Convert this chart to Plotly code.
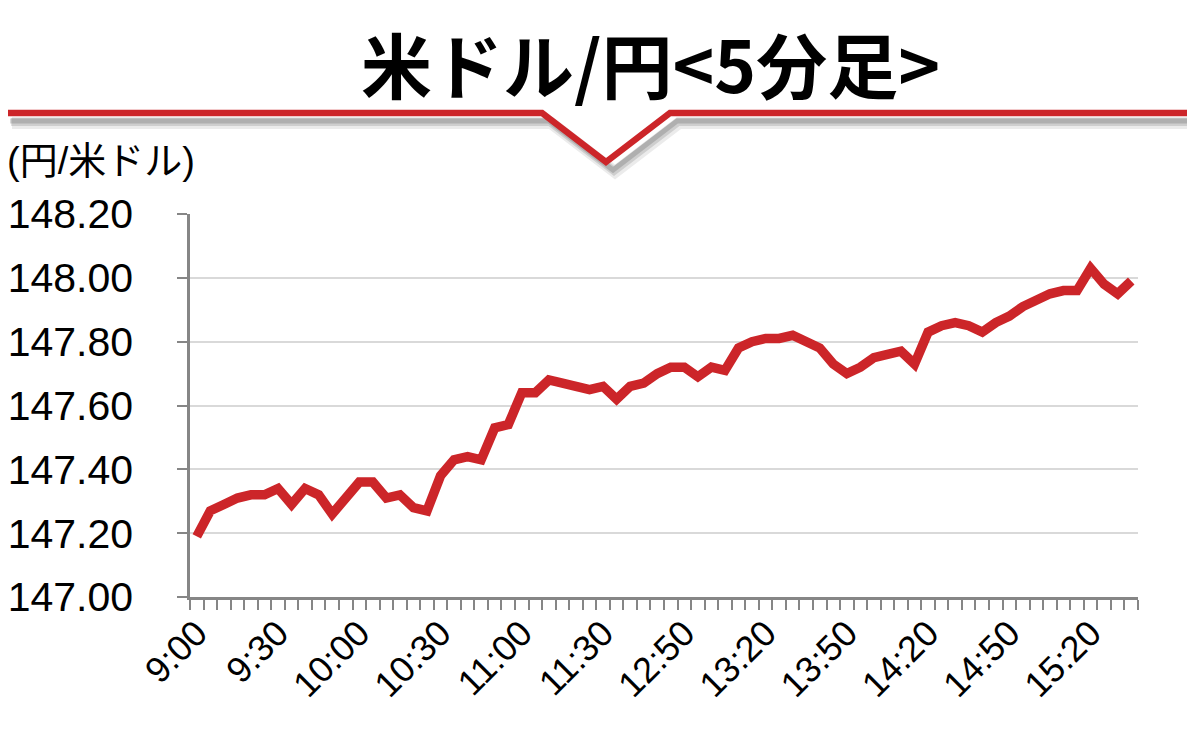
import plotly.graph_objects as go

# ---- data ----
times = [
    "9:00", "9:05", "9:10", "9:15", "9:20", "9:25", "9:30", "9:35", "9:40", "9:45", "9:50", "9:55",
    "10:00", "10:05", "10:10", "10:15", "10:20", "10:25", "10:30", "10:35", "10:40", "10:45", "10:50", "10:55",
    "11:00", "11:05", "11:10", "11:15", "11:20", "11:25", "11:30",
    "12:25", "12:30", "12:35", "12:40", "12:45",
    "12:50", "12:55", "13:00", "13:05", "13:10", "13:15", "13:20", "13:25", "13:30", "13:35", "13:40", "13:45",
    "13:50", "13:55", "14:00", "14:05", "14:10", "14:15", "14:20", "14:25", "14:30", "14:35", "14:40", "14:45",
    "14:50", "14:55", "15:00", "15:05", "15:10", "15:15", "15:20", "15:25", "15:30", "15:35",
]
usdjpy = [
    147.19, 147.27, 147.29, 147.31, 147.32, 147.32, 147.34, 147.29, 147.34, 147.32, 147.26, 147.31,
    147.36, 147.36, 147.31, 147.32, 147.28, 147.27, 147.38, 147.43, 147.44, 147.43, 147.53, 147.54,
    147.64, 147.64, 147.68, 147.67, 147.66, 147.65, 147.66,
    147.62, 147.66, 147.67, 147.70, 147.72,
    147.72, 147.69, 147.72, 147.71, 147.78, 147.80, 147.81, 147.81, 147.82, 147.80, 147.78, 147.73,
    147.70, 147.72, 147.75, 147.76, 147.77, 147.73, 147.83, 147.85, 147.86, 147.85, 147.83, 147.86,
    147.88, 147.91, 147.93, 147.95, 147.96, 147.96, 148.03, 147.98, 147.95, 147.99,
]
label_times = ["9:00", "9:30", "10:00", "10:30", "11:00", "11:30", "12:50",
               "13:20", "13:50", "14:20", "14:50", "15:20"]
y_ticks = [147.00, 147.20, 147.40, 147.60, 147.80, 148.00, 148.20]

title_text = "米ドル/円<5分足>"
unit_text = "(円/米ドル)"

tick_text = [t if t in label_times else "" for t in times]

RED = "#CC2529"
GRAY = "#868686"
FONT = "Liberation Sans, Arial, Noto Sans CJK JP, sans-serif"

fig = go.Figure()
fig.add_trace(go.Scatter(
    x=times, y=usdjpy, mode="lines",
    line=dict(color=RED, width=9.5),
    hoverinfo="x+y", showlegend=False,
))

# The page body has an 8px margin, so the figure is drawn 8px right/down.
OFF = 8.0
# plot area in page pixels: x 190..1138, y 214..597
W_PLOT, H_PLOT, L, B = 948.0, 383.0, 190.0, 597.0
def px(x):
    return (x - L) / W_PLOT
def py(y):
    return (B - y) / H_PLOT

def vpath(dx=0.0, dy=0.0):
    pts = [(3, 113), (542, 113), (606, 162), (670, 113), (1200, 113)]
    return "M " + " L ".join(f"{px(x + dx):.5f},{py(y + dy):.5f}" for x, y in pts)

shapes = []
for dx, dy, w, a in [(9, 10, 12, 0.08), (8, 9, 8, 0.12), (7, 8, 5, 0.15)]:
    shapes.append(dict(type="path", xref="paper", yref="paper", path=vpath(dx, dy),
                       line=dict(color=f"rgba(0,0,0,{a})", width=w), layer="above"))
shapes.append(dict(type="path", xref="paper", yref="paper", path=vpath(),
                   line=dict(color=RED, width=6.5), layer="above"))

FIG_W, FIG_H = 1195 - 2 * OFF, 751 - 2 * OFF
fig.update_layout(
    width=FIG_W, height=FIG_H,
    margin=dict(l=L - OFF, r=FIG_W - (L + W_PLOT - OFF), t=(B - H_PLOT) - OFF, b=FIG_H - (B - OFF),
                pad=0, autoexpand=False),
    paper_bgcolor="white", plot_bgcolor="white",
    font=dict(family=FONT, color="black"),
    shapes=shapes,
    annotations=[
        dict(text=f"<b>{title_text}</b>", xref="paper", yref="paper",
             x=px(650), y=py(62), xanchor="center", yanchor="middle", showarrow=False,
             font=dict(family="Noto Sans CJK JP, sans-serif", size=71, color="black")),
        dict(text=unit_text, xref="paper", yref="paper",
             x=px(5), y=py(161), xanchor="left", yanchor="middle", showarrow=False,
             font=dict(family=FONT, size=38, color="black")),
    ],
    xaxis=dict(
        type="category", categoryorder="array", categoryarray=times,
        range=[-0.5, len(times) - 0.5],
        tickmode="array", tickvals=times, ticktext=tick_text,
        tickson="boundaries", ticks="outside", ticklen=10, tickwidth=2, tickcolor=GRAY,
        showline=True, linecolor=GRAY, linewidth=2.5,
        showgrid=False, zeroline=False,
        tickangle=-45, tickfont=dict(family=FONT, size=36, color="black"),
        ticklabelstandoff=-2,
    ),
    yaxis=dict(
        range=[147.0, 148.2], tickmode="array", tickvals=y_ticks,
        ticktext=[f"{v:.2f}" for v in y_ticks],
        ticks="outside", ticklen=10, tickwidth=2, tickcolor=GRAY,
        showline=True, linecolor=GRAY, linewidth=2.5,
        showgrid=True, gridcolor="#D9D9D9", gridwidth=2, zeroline=False,
        tickfont=dict(family=FONT, size=41, color="black"),
        ticklabelstandoff=36,
    ),
)

fig.write_html("out.html")
